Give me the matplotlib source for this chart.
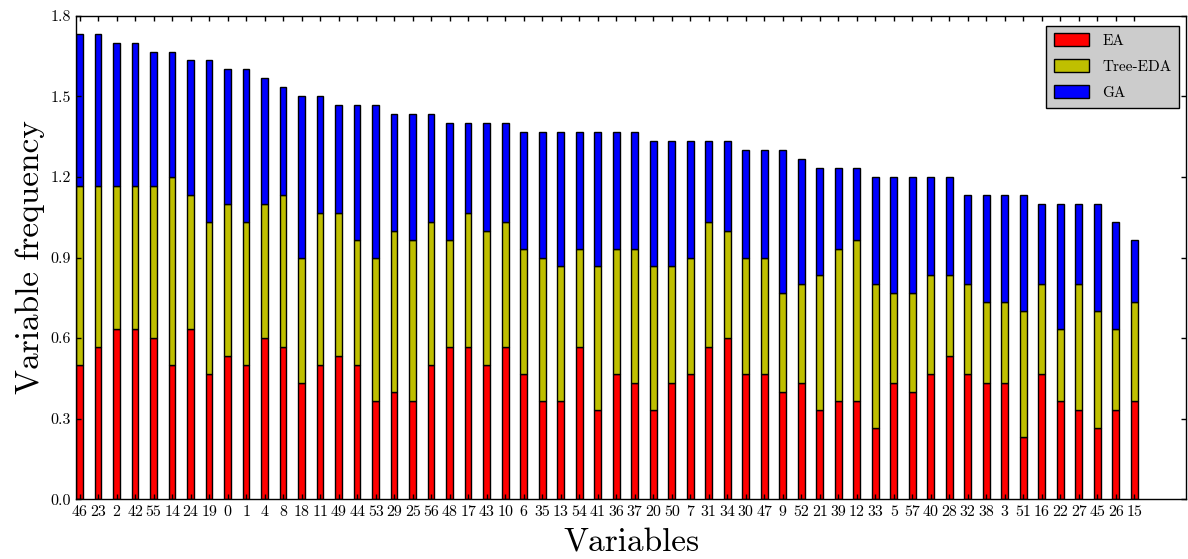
import numpy as np
import matplotlib
matplotlib.use('Agg')
import matplotlib.pyplot as plt

plt.rcParams['font.family'] = 'serif'
plt.rcParams['font.serif'] = ['cmr10', 'DejaVu Serif']
plt.rcParams['axes.formatter.use_mathtext'] = True

# variables in the order they are plotted
variables = [46, 23, 2, 42, 55, 14, 24, 19, 0, 1, 4, 8, 18, 11, 49, 44, 53, 29, 25, 56,
             48, 17, 43, 10, 6, 35, 13, 54, 41, 36, 37, 20, 50, 7, 31, 34, 30, 47, 9,
             52, 21, 39, 12, 33, 5, 57, 40, 28, 32, 38, 3, 51, 16, 22, 27, 45, 26, 15]

# hits out of 30 runs for each algorithm
n_runs = 30.0
ea_hits = [15, 17, 19, 19, 18, 15, 19, 14, 16, 15, 18, 17, 13, 15, 16, 15, 11, 12, 11, 15,
           17, 17, 15, 17, 14, 11, 11, 17, 10, 14, 13, 10, 13, 14, 17, 18, 14, 14, 12,
           13, 10, 11, 11, 8, 13, 12, 14, 16, 14, 13, 13, 7, 14, 11, 10, 8, 10, 11]
eda_hits = [20, 18, 16, 16, 17, 21, 15, 17, 17, 16, 15, 17, 14, 17, 16, 14, 16, 18, 18, 16,
            12, 15, 15, 14, 14, 16, 15, 11, 16, 14, 15, 16, 13, 13, 14, 12, 13, 13, 11,
            11, 15, 17, 18, 16, 10, 11, 11, 9, 10, 9, 9, 14, 10, 8, 14, 13, 9, 11]
ga_hits = [17, 17, 16, 16, 15, 14, 15, 18, 15, 17, 14, 12, 18, 13, 12, 15, 17, 13, 14, 12,
           13, 10, 12, 11, 13, 14, 15, 13, 15, 13, 13, 14, 14, 13, 9, 10, 12, 12, 16,
           14, 12, 9, 8, 12, 13, 13, 11, 11, 10, 12, 12, 13, 9, 14, 9, 12, 12, 7]

yticks = [0.0, 0.3, 0.6, 0.9, 1.2, 1.5, 1.8]

ea = np.array(ea_hits) / n_runs
eda = np.array(eda_hits) / n_runs
ga = np.array(ga_hits) / n_runs

ind = np.arange(len(variables))
width = 0.36

fig = plt.figure(figsize=(11.88, 5.59), dpi=100)
ax = fig.add_axes([0.0642, 0.1068, 0.9345, 0.8651])

ax.bar(ind, ea, width, align='edge', color='r', edgecolor='k', linewidth=1, label='EA')
ax.bar(ind, eda, width, bottom=ea, align='edge', color='y', edgecolor='k', linewidth=1,
       label='Tree-EDA')
ax.bar(ind, ga, width, bottom=ea + eda, align='edge', color='b', edgecolor='k', linewidth=1,
       label='GA')

ax.set_xlim(0, 60)
ax.set_ylim(0, 1.8)
ax.set_xticks(ind + width / 2)
ax.set_xticklabels([str(v) for v in variables], fontsize=11.5)
ax.set_yticks(yticks)
ax.set_yticklabels(['%.1f' % v for v in yticks], fontsize=11.5)
ax.tick_params(direction='in', top=True, right=True, length=3.5, width=1, pad=4)
for sp in ax.spines.values():
    sp.set_linewidth(1)

ax.set_xlabel('Variables', fontsize=24, labelpad=7)
ax.set_ylabel('Variable frequency', fontsize=24, labelpad=4)

leg = ax.legend(loc='upper right', bbox_to_anchor=(0.9937, 0.9793), borderaxespad=0,
                fontsize=11, fancybox=False, framealpha=1, handlelength=2.3,
                handleheight=0.9, handletextpad=0.9, borderpad=0.5, labelspacing=0.75)
leg.get_frame().set_facecolor('#cccccc')
leg.get_frame().set_edgecolor('k')
leg.get_frame().set_linewidth(1)

fig.savefig('out.png', dpi=100)
